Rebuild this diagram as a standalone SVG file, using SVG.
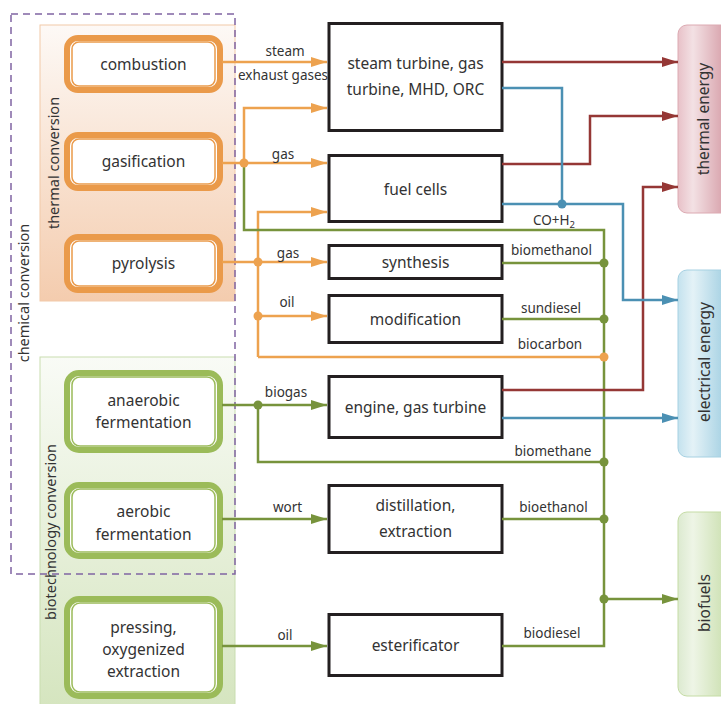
<svg xmlns="http://www.w3.org/2000/svg" width="721" height="704" viewBox="0 0 721 704">
<defs>
<style>
text{font-family:"Noto Sans","Open Sans","DejaVu Sans",sans-serif;fill:#333;}
.nl{font-size:15.5px;text-anchor:middle;}
.lb{font-size:13.5px;text-anchor:middle;}
.rl{font-size:14.5px;text-anchor:middle;}
.pl{font-size:15.5px;text-anchor:middle;}
.box{fill:#fff;stroke:#231f20;stroke-width:3;}
.oo{fill:#fff;stroke:#ea9a4a;stroke-width:6;}
.oi{fill:#fff;stroke:#ea9a4a;stroke-width:1.5;}
.go{fill:#fff;stroke:#9bbb59;stroke-width:6;}
.gi{fill:#fff;stroke:#9bbb59;stroke-width:1.5;}
.co{fill:none;stroke:#eda24f;stroke-width:2.5;}
.cg{fill:none;stroke:#77933c;stroke-width:2.5;}
.cr{fill:none;stroke:#953735;stroke-width:2.5;}
.cb{fill:none;stroke:#4b90b3;stroke-width:2.5;}
.do{fill:#eda24f;}
.dg{fill:#77933c;}
.db{fill:#4b90b3;}
</style>
<marker id="ao" markerUnits="userSpaceOnUse" markerWidth="16" markerHeight="10" refX="16" refY="5" orient="auto"><path d="M0,0 L16,5 L0,10 z" fill="#eda24f"/></marker>
<marker id="ag" markerUnits="userSpaceOnUse" markerWidth="16" markerHeight="10" refX="16" refY="5" orient="auto"><path d="M0,0 L16,5 L0,10 z" fill="#77933c"/></marker>
<marker id="ar" markerUnits="userSpaceOnUse" markerWidth="16" markerHeight="10" refX="16" refY="5" orient="auto"><path d="M0,0 L16,5 L0,10 z" fill="#953735"/></marker>
<marker id="ab" markerUnits="userSpaceOnUse" markerWidth="16" markerHeight="10" refX="16" refY="5" orient="auto"><path d="M0,0 L16,5 L0,10 z" fill="#4b90b3"/></marker>
<linearGradient id="gThermConv" x1="0" y1="0" x2="0" y2="1"><stop offset="0" stop-color="#fdf9f6"/><stop offset="1" stop-color="#f4ccae"/></linearGradient>
<linearGradient id="gBioConv" x1="0" y1="0" x2="0" y2="1"><stop offset="0" stop-color="#f9fbf6"/><stop offset="1" stop-color="#d5e5bf"/></linearGradient>
<linearGradient id="gTherm" x1="0" y1="0" x2="1" y2="0"><stop offset="0" stop-color="#e8c1c8"/><stop offset="0.25" stop-color="#f3e1e4"/><stop offset="0.75" stop-color="#d9a5ae"/><stop offset="1" stop-color="#cd8e99"/></linearGradient>
<linearGradient id="gElec" x1="0" y1="0" x2="1" y2="0"><stop offset="0" stop-color="#c4e2ee"/><stop offset="0.25" stop-color="#e4f2f7"/><stop offset="0.75" stop-color="#a9d3e4"/><stop offset="1" stop-color="#8fc3d9"/></linearGradient>
<linearGradient id="gFuel" x1="0" y1="0" x2="1" y2="0"><stop offset="0" stop-color="#dcead0"/><stop offset="0.25" stop-color="#eef5e6"/><stop offset="0.75" stop-color="#cfe2b6"/><stop offset="1" stop-color="#bfd89c"/></linearGradient>
</defs>

<g id="panel-thermal-conversion">
<rect x="40" y="25" width="195" height="276" fill="url(#gThermConv)" stroke="#f2c9a8" stroke-width="1"/>
<text class="rl" transform="translate(59,163) rotate(-90)">thermal conversion</text>
</g>
<g id="panel-biotechnology-conversion">
<rect x="40" y="357" width="195" height="350" fill="url(#gBioConv)" stroke="#c9ddb0" stroke-width="1"/>
<text class="rl" transform="translate(56,532) rotate(-90)">biotechnology conversion</text>
</g>
<g id="panel-chemical-conversion">
<rect x="11" y="14" width="224" height="560" fill="none" stroke="#8064a2" stroke-width="1.5" stroke-dasharray="7 5"/>
<text class="rl" transform="translate(28.5,293) rotate(-90)">chemical conversion</text>
</g>

<g id="combustion"><rect class="oo" x="67" y="38" width="153" height="52" rx="11"/><rect class="oi" x="72" y="42" width="143" height="44" rx="7"/><text class="nl" x="143.5" y="70">combustion</text></g>
<g id="gasification"><rect class="oo" x="67" y="135" width="153" height="53" rx="11"/><rect class="oi" x="72" y="139" width="143" height="45" rx="7"/><text class="nl" x="143.5" y="167">gasification</text></g>
<g id="pyrolysis"><rect class="oo" x="67" y="237" width="153" height="53" rx="11"/><rect class="oi" x="72" y="241" width="143" height="45" rx="7"/><text class="nl" x="143.5" y="269">pyrolysis</text></g>
<g id="anaerobic-fermentation"><rect class="go" x="67" y="373" width="153" height="77" rx="12"/><rect class="gi" x="72" y="377" width="143" height="69" rx="8"/><text class="nl" x="143.5" y="406">anaerobic</text><text class="nl" x="143.5" y="428">fermentation</text></g>
<g id="aerobic-fermentation"><rect class="go" x="67" y="485" width="153" height="71" rx="12"/><rect class="gi" x="72" y="489" width="143" height="63" rx="8"/><text class="nl" x="143.5" y="517">aerobic</text><text class="nl" x="143.5" y="540">fermentation</text></g>
<g id="pressing-extraction"><rect class="go" x="67" y="599" width="153" height="97" rx="12"/><rect class="gi" x="72" y="603" width="143" height="89" rx="8"/><text class="nl" x="143.5" y="633">pressing,</text><text class="nl" x="143.5" y="655">oxygenized</text><text class="nl" x="143.5" y="677">extraction</text></g>

<g id="steam-turbine"><rect class="box" x="329" y="23.5" width="173" height="107"/><text class="nl" x="415.5" y="69">steam turbine, gas</text><text class="nl" x="415.5" y="95">turbine, MHD, ORC</text></g>
<g id="fuel-cells"><rect class="box" x="329" y="155.5" width="173" height="66"/><text class="nl" x="415.5" y="195">fuel cells</text></g>
<g id="synthesis"><rect class="box" x="329" y="245.5" width="173" height="33"/><text class="nl" x="415.5" y="268">synthesis</text></g>
<g id="modification"><rect class="box" x="329" y="295.5" width="173" height="47"/><text class="nl" x="415.5" y="325">modification</text></g>
<g id="engine"><rect class="box" x="329" y="376.5" width="173" height="61"/><text class="nl" x="415.5" y="413">engine, gas turbine</text></g>
<g id="distillation"><rect class="box" x="329" y="485.5" width="173" height="67"/><text class="nl" x="415.5" y="511">distillation,</text><text class="nl" x="415.5" y="537">extraction</text></g>
<g id="esterificator"><rect class="box" x="329" y="614.5" width="173" height="61"/><text class="nl" x="415.5" y="651">esterificator</text></g>

<g id="thermal-energy"><rect x="678" y="25" width="60" height="188" rx="9" fill="url(#gTherm)" stroke="#dcaab2" stroke-width="1"/><text class="pl" transform="translate(709,119) rotate(-90)">thermal energy</text></g>
<g id="electrical-energy"><rect x="678" y="270" width="60" height="187" rx="9" fill="url(#gElec)" stroke="#a6d1e2" stroke-width="1"/><text class="pl" transform="translate(709.5,362) rotate(-90)">electrical energy</text></g>
<g id="biofuels"><rect x="678" y="512" width="60" height="184" rx="9" fill="url(#gFuel)" stroke="#c5dca5" stroke-width="1"/><text class="pl" transform="translate(709.5,603) rotate(-90)">biofuels</text></g>

<g id="connectors">
<path class="co" d="M222,62 H327" marker-end="url(#ao)"/>
<path class="co" d="M222,163 H327" marker-end="url(#ao)"/>
<path class="co" d="M244,163 V108 H327" marker-end="url(#ao)"/>
<path class="co" d="M222,262 H327" marker-end="url(#ao)"/>
<path class="co" d="M258,357 V212 H327" marker-end="url(#ao)"/>
<path class="co" d="M258,316 H327" marker-end="url(#ao)"/>
<path class="co" d="M258,357 H604"/>
<path class="cg" d="M244,163 V230 H604 V646 H502"/>
<path class="cg" d="M502,263 H604"/>
<path class="cg" d="M502,319 H604"/>
<path class="cg" d="M502,519 H604"/>
<path class="cg" d="M222,405 H327" marker-end="url(#ag)"/>
<path class="cg" d="M258,405 V462 H604"/>
<path class="cg" d="M222,519 H327" marker-end="url(#ag)"/>
<path class="cg" d="M222,646 H327" marker-end="url(#ag)"/>
<path class="cg" d="M604,599 H678" marker-end="url(#ag)"/>
<path class="cr" d="M502,62 H678" marker-end="url(#ar)"/>
<path class="cr" d="M502,164 H590 V116 H678" marker-end="url(#ar)"/>
<path class="cr" d="M502,390 H643 V187 H678" marker-end="url(#ar)"/>
<path class="cb" d="M502,88 H562 V204"/>
<path class="cb" d="M502,204 H623 V300 H678" marker-end="url(#ab)"/>
<path class="cb" d="M502,418 H678" marker-end="url(#ab)"/>
<circle class="do" cx="244" cy="163" r="4.5"/>
<circle class="do" cx="258" cy="262" r="4.5"/>
<circle class="do" cx="258" cy="316" r="4.5"/>
<circle class="do" cx="604" cy="357" r="4.5"/>
<circle class="dg" cx="258" cy="405" r="4.5"/>
<circle class="dg" cx="604" cy="263" r="4.5"/>
<circle class="dg" cx="604" cy="319" r="4.5"/>
<circle class="dg" cx="604" cy="462" r="4.5"/>
<circle class="dg" cx="604" cy="519" r="4.5"/>
<circle class="dg" cx="604" cy="599" r="4.5"/>
<circle class="db" cx="562" cy="204" r="4.5"/>
<text class="lb" x="285" y="56">steam</text>
<text class="lb" x="283" y="80">exhaust gases</text>
<text class="lb" x="283" y="159">gas</text>
<text class="lb" x="288" y="258">gas</text>
<text class="lb" x="287" y="307">oil</text>
<text class="lb" x="286" y="397">biogas</text>
<text class="lb" x="287.5" y="512">wort</text>
<text class="lb" x="285" y="640">oil</text>
<text class="lb" x="551.5" y="255">biomethanol</text>
<text class="lb" x="551" y="313">sundiesel</text>
<text class="lb" x="550" y="349">biocarbon</text>
<text class="lb" x="553" y="456">biomethane</text>
<text class="lb" x="553.5" y="512">bioethanol</text>
<text class="lb" x="552" y="638">biodiesel</text>
<text class="lb" x="554" y="225">CO+H<tspan font-size="9.5" dy="3">2</tspan></text>
</g>
</svg>
